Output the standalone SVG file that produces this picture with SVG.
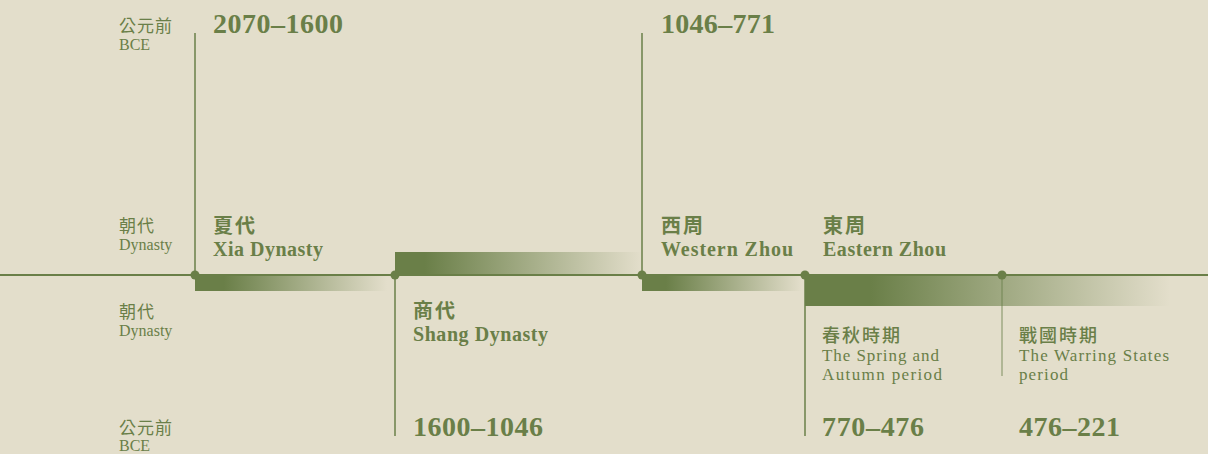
<svg xmlns="http://www.w3.org/2000/svg" width="1208" height="454" viewBox="0 0 1208 454">
<style>
text{font-family:"Liberation Serif","Noto Sans CJK TC",serif;fill:#6a7f48}
.lab{font-size:16px}
.labc{font-size:17px;letter-spacing:1px}
.date{font-size:28px;font-weight:bold}
.tc{font-size:20px;font-weight:bold;letter-spacing:2px}
.te{font-size:20px;font-weight:bold}
.sc{font-size:18px;letter-spacing:2px;font-weight:500}
.se{font-size:17px}
.ln{stroke:#6a7f48;stroke-width:1.5;fill:none}
.dot{fill:#6a7f48}
</style>
<defs>
<linearGradient id="gXia" x1="0" y1="0" x2="1" y2="0"><stop offset="0" stop-color="#6a7f48"/><stop offset="0.15" stop-color="#6a7f48"/><stop offset="1" stop-color="#6a7f48" stop-opacity="0"/></linearGradient>
<linearGradient id="gShang" x1="0" y1="0" x2="1" y2="0"><stop offset="0" stop-color="#6a7f48"/><stop offset="0.12" stop-color="#6a7f48"/><stop offset="1" stop-color="#6a7f48" stop-opacity="0"/></linearGradient>
<linearGradient id="gWZ" x1="0" y1="0" x2="1" y2="0"><stop offset="0" stop-color="#6a7f48"/><stop offset="0.15" stop-color="#6a7f48"/><stop offset="1" stop-color="#6a7f48" stop-opacity="0"/></linearGradient>
<linearGradient id="gEZ" x1="0" y1="0" x2="1" y2="0"><stop offset="0" stop-color="#6a7f48"/><stop offset="0.18" stop-color="#6a7f48"/><stop offset="1" stop-color="#6a7f48" stop-opacity="0"/></linearGradient>
</defs>
<rect width="1208" height="454" fill="#e3decb"/>

<g id="axis-labels">
<text class="labc" x="119" y="32">公元前</text>
<text class="lab" x="119" y="50">BCE</text>
<text class="labc" x="119" y="232">朝代</text>
<text class="lab" x="119" y="250">Dynasty</text>
<text class="labc" x="119" y="318">朝代</text>
<text class="lab" x="119" y="336">Dynasty</text>
<text class="labc" x="119" y="434">公元前</text>
<text class="lab" x="119" y="451">BCE</text>
</g>

<g id="bars">
<rect x="195" y="276" width="192" height="15" fill="url(#gXia)"/>
<rect x="395" y="252" width="247" height="22" fill="url(#gShang)"/>
<rect x="642" y="276" width="160" height="15" fill="url(#gWZ)"/>
<rect x="805" y="276" width="365" height="30" fill="url(#gEZ)"/>
</g>

<g id="connectors">
<line x1="0" y1="275" x2="1208" y2="275" stroke="#6a7f48" stroke-width="2"/>
<line class="ln" x1="195" y1="33" x2="195" y2="275"/>
<line class="ln" x1="395" y1="275" x2="395" y2="436"/>
<line class="ln" x1="642" y1="33" x2="642" y2="275"/>
<line class="ln" x1="805" y1="275" x2="805" y2="436"/>
<line class="ln" x1="1002" y1="275" x2="1002" y2="376" stroke-opacity="0.55"/>
</g>

<g id="xia">
<circle class="dot" cx="195" cy="275" r="4.5"/>
<text class="date" x="213" y="33" textLength="130" lengthAdjust="spacing">2070–1600</text>
<text class="tc" x="213" y="233">夏代</text>
<text class="te" x="213" y="256" textLength="110" lengthAdjust="spacing">Xia Dynasty</text>
</g>

<g id="shang">
<circle class="dot" cx="395" cy="275" r="4.5"/>
<text class="tc" x="413" y="318">商代</text>
<text class="te" x="413" y="341" textLength="135" lengthAdjust="spacing">Shang Dynasty</text>
<text class="date" x="413" y="436" textLength="130" lengthAdjust="spacing">1600–1046</text>
</g>

<g id="western-zhou">
<circle class="dot" cx="642" cy="275" r="4.5"/>
<text class="date" x="661" y="33" textLength="114" lengthAdjust="spacing">1046–771</text>
<text class="tc" x="661" y="233">西周</text>
<text class="te" x="661" y="256" textLength="132" lengthAdjust="spacing">Western Zhou</text>
</g>

<g id="eastern-zhou">
<circle class="dot" cx="805" cy="275" r="4.5"/>
<text class="tc" x="823" y="233">東周</text>
<text class="te" x="823" y="256" textLength="123" lengthAdjust="spacing">Eastern Zhou</text>
</g>

<g id="spring-autumn">
<text class="sc" x="822" y="342">春秋時期</text>
<text class="se" x="822" y="361" textLength="117" lengthAdjust="spacing">The Spring and</text>
<text class="se" x="822" y="380" textLength="120" lengthAdjust="spacing">Autumn period</text>
<text class="date" x="822" y="436" textLength="102" lengthAdjust="spacing">770–476</text>
</g>

<g id="warring-states">
<circle class="dot" cx="1002" cy="275" r="4.5"/>
<text class="sc" x="1019" y="342">戰國時期</text>
<text class="se" x="1019" y="361" textLength="150" lengthAdjust="spacing">The Warring States</text>
<text class="se" x="1019" y="380" textLength="49" lengthAdjust="spacing">period</text>
<text class="date" x="1019" y="436" textLength="101" lengthAdjust="spacing">476–221</text>
</g>
</svg>
